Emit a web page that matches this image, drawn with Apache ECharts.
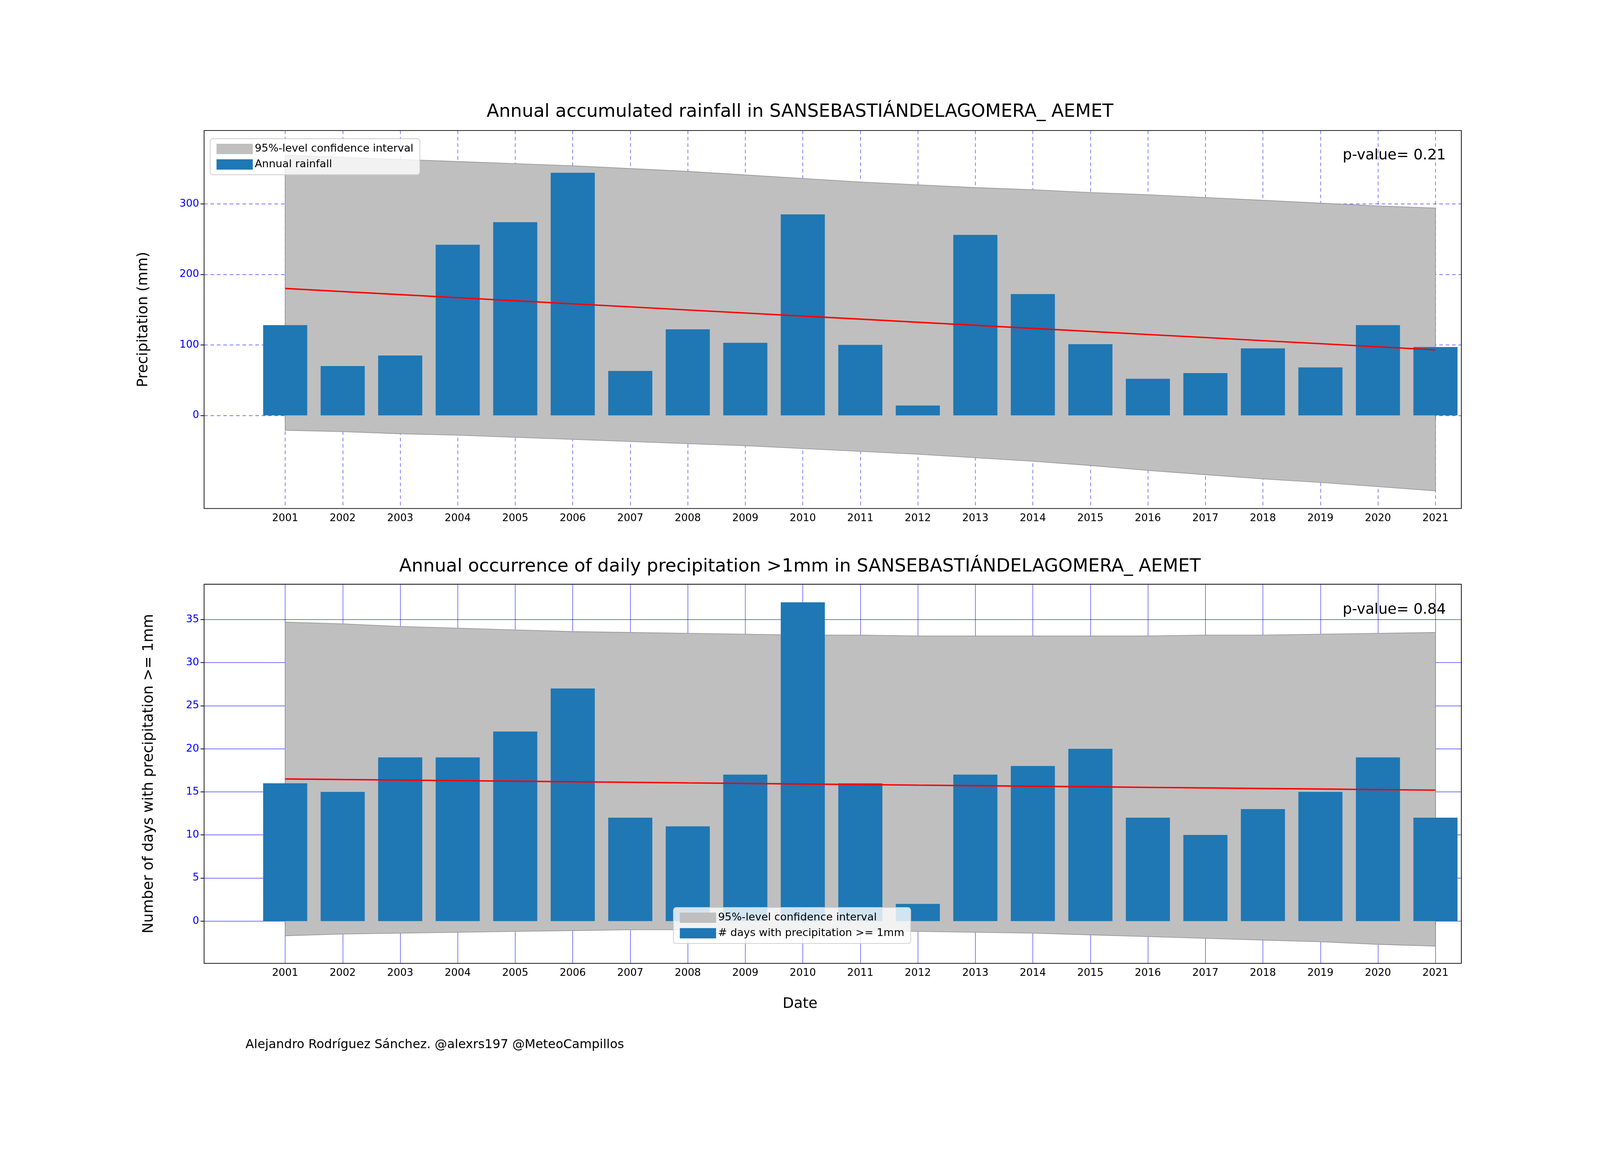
<!DOCTYPE html>
<html><head><meta charset="utf-8">
<script src="https://cdn.jsdelivr.net/npm/echarts@6/dist/echarts.min.js"></script>
<style>html,body{margin:0;padding:0;background:#fff;overflow:hidden}#c{width:100vw;height:100vh}</style>
</head><body><div id="c"></div>
<script>
const years = [2001,2002,2003,2004,2005,2006,2007,2008,2009,2010,2011,2012,2013,2014,2015,2016,2017,2018,2019,2020,2021];
const rainfall = [128,70,85,242,274,344,63,122,103,285,100,14,256,172,101,52,60,95,68,128,97];
const rainTrend = [180,175.6,171.3,166.9,162.6,158.2,153.9,149.5,145.2,140.8,136.5,132.1,127.8,123.4,119.1,114.7,110.4,106,101.7,97.3,93];
const rainUpper = [369,366,363,360,357,354,350,346,341,336,331,327,323,320,316,313,309,305,301,297,294];
const rainLower = [-21,-23,-26,-28,-31,-34,-37,-40,-43,-47,-51,-55,-60,-65,-71,-78,-84,-90,-95,-101,-107];
const days = [16,15,19,19,22,27,12,11,17,37,16,2,17,18,20,12,10,13,15,19,12];
const daysTrend = [16.5,16.43,16.37,16.3,16.24,16.17,16.11,16.04,15.98,15.91,15.85,15.78,15.72,15.65,15.59,15.52,15.46,15.39,15.33,15.26,15.2];
const daysUpper = [34.7,34.5,34.2,34.0,33.8,33.6,33.5,33.4,33.3,33.2,33.2,33.1,33.1,33.1,33.1,33.1,33.2,33.2,33.3,33.4,33.5];
const daysLower = [-1.7,-1.5,-1.4,-1.3,-1.2,-1.1,-1.0,-1.0,-1.0,-1.0,-1.1,-1.2,-1.3,-1.4,-1.6,-1.8,-2.0,-2.2,-2.4,-2.7,-2.9];
const rainTicks = [0,100,200,300];
const dayTicks = [0,5,10,15,20,25,30,35];

const F = 'DejaVu Sans';
const el = document.getElementById('c');
const W = el.clientWidth, H = el.clientHeight;
const s = W/4500;
const px = v => v*s;
const pair = (a)=>years.map((y,i)=>[y,a[i]]);
function xAx(idx){return {type:'value',gridIndex:idx,min:1999.59,max:2021.45,
  axisLine:{show:false},
  axisTick:{customValues:years,length:px(10),lineStyle:{color:'#000',width:px(2)}},
  axisLabel:{customValues:years,formatter:v=>String(Math.round(v)),fontFamily:F,fontSize:px(29),color:'#000',margin:px(14)},
  splitLine:{show:true,lineStyle:{color:'#0000ff',opacity:0.55,width:px(2),type:idx===0?[px(10),px(8)]:'solid'}}};}
function yAx(idx,min,max,ticks,name,gap,dash){return {type:'value',gridIndex:idx,min,max,
  name,nameLocation:'middle',nameGap:px(gap),nameTextStyle:{fontFamily:F,fontSize:px(41),color:'#000'},
  axisLine:{show:false},
  axisTick:{show:true,customValues:ticks,length:px(10),lineStyle:{color:'#000',width:px(2)}},
  axisLabel:{customValues:ticks,fontFamily:F,fontSize:px(29),color:'#0000ff',margin:px(14)},
  splitLine:{show:true,lineStyle:{color:'#0000ff',opacity:0.55,width:px(2),type:dash?[px(10),px(8)]:'solid'}}};}
function band(idx,u,l){
  const data = years.map((y,i)=>[y,l[i],u[i]]);
  return {type:'custom',name:'95%-level confidence interval',xAxisIndex:idx,yAxisIndex:idx,data,z:1,
    itemStyle:{color:'#bfbfbf',borderColor:'#999'},
    encode:{x:0,y:[1,2]},
    renderItem:(params,api)=>{
      if(params.dataIndex!==0) return;
      const up = data.map(d=>api.coord([d[0],d[2]]));
      const lo = data.map(d=>api.coord([d[0],d[1]])).reverse();
      return {type:'polygon',shape:{points:up.concat(lo)},style:{fill:'#bfbfbf',stroke:'#999',lineWidth:px(2)}};
    }};
}
const chart = echarts.init(el);
const leg = {orient:'vertical',itemWidth:px(102),itemHeight:px(29),itemGap:px(14),padding:[px(14),px(18)],backgroundColor:'rgba(255,255,255,0.8)',borderColor:'#ccc',borderWidth:px(2),borderRadius:px(8),
  textStyle:{fontFamily:F,fontSize:px(30),color:'#000'}};
const tt = (fs)=>({fontFamily:F,fontSize:px(fs),fontWeight:'normal',color:'#000'});
chart.setOption({
  animation:false,backgroundColor:'#fff',
  title:[
    {text:'Annual accumulated rainfall in SANSEBASTIÁNDELAGOMERA_ AEMET',left:'center',top:px(284),textStyle:tt(51)},
    {text:'Annual occurrence of daily precipitation >1mm in SANSEBASTIÁNDELAGOMERA_ AEMET',left:'center',top:px(1563),textStyle:tt(51)},
    {text:'p-value= 0.21',right:px(428),top:px(412),textStyle:tt(41)},
    {text:'p-value= 0.84',right:px(428),top:px(1690),textStyle:tt(41)},
    {text:'Date',left:'center',top:px(2798),textStyle:tt(41)},
    {text:'Alejandro Rodríguez Sánchez. @alexrs197 @MeteoCampillos',left:px(685),top:px(2915),textStyle:tt(35)}
  ],
  grid:[
    {left:px(574),right:px(390),top:px(367),height:px(1063),show:true,borderColor:'#000',borderWidth:px(2),backgroundColor:'transparent'},
    {left:px(574),right:px(390),top:px(1643),height:px(1066),show:true,borderColor:'#000',borderWidth:px(2),backgroundColor:'transparent'}
  ],
  legend:[
    Object.assign({left:px(591),top:px(390),data:[{name:'95%-level confidence interval',icon:'rect'},{name:'Annual rainfall',icon:'rect'}]},leg),
    Object.assign({left:px(1894),top:px(2552),data:[{name:'95%-level confidence interval',icon:'rect'},{name:'# days with precipitation >= 1mm',icon:'rect'}]},leg)
  ],
  xAxis:[xAx(0),xAx(1)],
  yAxis:[yAx(0,-132,404,rainTicks,'Precipitation (mm)',150,true),yAx(1,-4.9,39.1,dayTicks,'Number of days with precipitation >= 1mm',135,false)],
  series:[
    band(0,rainUpper,rainLower),
    {type:'bar',name:'Annual rainfall',xAxisIndex:0,yAxisIndex:0,data:pair(rainfall),barWidth:px(124),itemStyle:{color:'#1f77b4'},z:2},
    {type:'line',name:'trend0',xAxisIndex:0,yAxisIndex:0,data:pair(rainTrend),symbol:'none',lineStyle:{color:'#ff0000',width:px(4)},z:5},
    band(1,daysUpper,daysLower),
    {type:'bar',name:'# days with precipitation >= 1mm',xAxisIndex:1,yAxisIndex:1,data:pair(days),barWidth:px(124),itemStyle:{color:'#1f77b4'},z:2},
    {type:'line',name:'trend1',xAxisIndex:1,yAxisIndex:1,data:pair(daysTrend),symbol:'none',lineStyle:{color:'#ff0000',width:px(4)},z:5}
  ]
});
</script></body></html>
